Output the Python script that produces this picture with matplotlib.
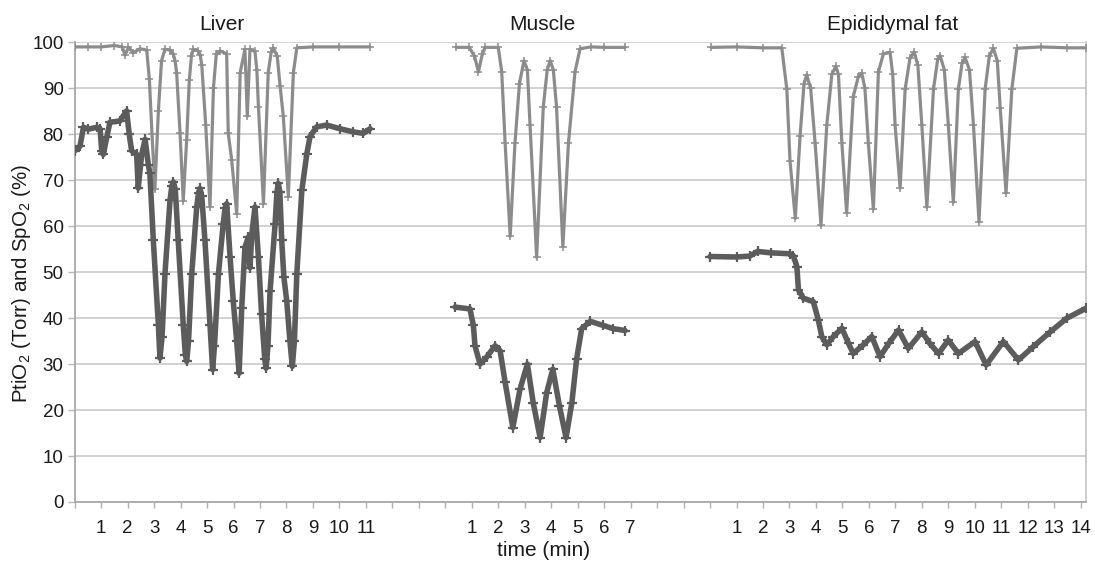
import matplotlib
matplotlib.use("Agg")
import matplotlib.pyplot as plt
import matplotlib.transforms as mtransforms
import numpy as np

plt.rcParams['font.family'] = ['Liberation Sans', 'DejaVu Sans']
plt.rcParams['mathtext.fontset'] = 'custom'
plt.rcParams['mathtext.rm'] = 'Liberation Sans'
plt.rcParams['mathtext.it'] = 'Liberation Sans:italic'

# ---------------- data (time in minutes within each tissue block) ----------------
liver_spo2_t = [0.0, 0.5, 1.0, 1.5, 1.8, 1.9, 2.03, 2.21, 2.47, 2.72, 2.82, 2.92, 3.03,
                3.16, 3.28, 3.41, 3.6, 3.72, 3.79, 3.85, 3.98, 4.1, 4.23, 4.33, 4.41,
                4.48, 4.65, 4.74, 4.8, 4.95, 5.11, 5.24, 5.35, 5.49, 5.74, 5.8, 5.93,
                6.12, 6.25, 6.43, 6.52, 6.62, 6.81, 6.88, 6.94, 7.13, 7.31, 7.42, 7.5,
                7.65, 7.76, 7.88, 8.07, 8.26, 8.39, 9.0, 10.0, 11.15]
liver_spo2 = [99, 99, 99, 99.3, 99, 97.2, 98.9, 97.7, 98.6, 98.3, 92, 80, 68,
              85, 96, 98.5, 98.3, 97.5, 96, 93.4, 80.2, 65.5, 78.8, 91.9, 97,
              98.5, 98.2, 97.3, 95, 82, 64.2, 90, 97.5, 98.1, 97.5, 80.2, 74.4,
              62.7, 93.4, 98.5, 83.9, 98.5, 98, 94, 86, 64.9, 93.4, 97.8, 98.8,
              97, 90.4, 83.9, 66.4, 93.4, 98.8, 99, 99, 99]

liver_pto2_t = [0.0, 0.2, 0.33, 0.51, 0.83, 0.96, 1.02, 1.08, 1.21, 1.33, 1.71, 1.96,
                2.06, 2.15, 2.34, 2.4, 2.53, 2.66, 2.78, 2.84, 2.97, 3.16, 3.22, 3.3,
                3.41, 3.6, 3.67, 3.73, 3.8, 3.91, 4.1, 4.18, 4.23, 4.3, 4.42, 4.61,
                4.68, 4.73, 4.8, 4.92, 5.11, 5.21, 5.28, 5.43, 5.61, 5.68, 5.74, 5.87,
                5.99, 6.12, 6.21, 6.31, 6.43, 6.56, 6.62, 6.69, 6.81, 6.94, 7.06, 7.18,
                7.23, 7.3, 7.38, 7.57, 7.64, 7.69, 7.75, 7.82, 7.9, 8.01, 8.13, 8.22,
                8.3, 8.39, 8.58, 8.77, 8.89, 9.14, 9.52, 10.02, 10.53, 10.9, 11.16]
liver_pto2 = [76.4, 77.4, 81.5, 81.1, 81.5, 81.1, 76.4, 75.6, 79.3, 82.6, 82.9, 85.1,
              80, 76.4, 75.6, 68.3, 75.6, 78.9, 73.4, 71.5, 56.9, 38.6, 31.3, 36,
              49.6, 65.6, 68.8, 69.6, 68, 56.9, 38.6, 32, 30.6, 35, 49.6, 64.2,
              67.3, 68.2, 66.5, 56.9, 38.6, 28.8, 34, 49.6, 60.5, 64, 64.9, 53.2,
              43.7, 35.0, 28.0, 42.3, 55.4, 57.6, 51.0, 58.3, 64.2, 53.2, 40.8, 31,
              29.1, 34, 45.9, 60.5, 67.5, 69.3, 67.5, 56.9, 49.0, 43.7, 35.0, 29.5,
              35, 49.6, 67.8, 75.8, 79.5, 81.6, 82.0, 81.2, 80.5, 80.2, 81.2]

muscle_spo2_t = [0.41, 0.9, 1.1, 1.25, 1.4, 1.5, 2.0, 2.13, 2.26, 2.45, 2.63, 2.8, 2.97,
                 3.1, 3.2, 3.45, 3.7, 3.85, 3.96, 4.08, 4.2, 4.44, 4.65, 4.9, 5.09,
                 5.5, 6.0, 6.79]
muscle_spo2 = [98.9, 98.9, 97, 93.6, 97.5, 98.9, 98.9, 93.6, 78, 57.8, 78, 91, 96,
               94, 82, 53.2, 85.9, 94, 96, 94, 86, 55.5, 78, 93.6, 98.6,
               99, 98.9, 98.9]

muscle_pto2_t = [0.37, 0.93, 1.06, 1.12, 1.31, 1.56, 1.88, 2.07, 2.26, 2.55, 2.82, 3.1,
                 3.32, 3.58, 3.83, 4.06, 4.31, 4.56, 4.78, 4.96, 5.15, 5.47, 5.97,
                 6.35, 6.79]
muscle_pto2 = [42.4, 42.0, 38.4, 34.0, 30.0, 31.5, 34.0, 32.9, 26.0, 16.2, 24.5, 30.0,
               21.6, 14.0, 23.8, 28.9, 20.9, 14.0, 21.6, 31.1, 37.7, 39.3, 38.4,
               37.7, 37.3]

fat_spo2_t = [0.04, 1.0, 2.0, 2.71, 2.9, 3.02, 3.22, 3.4, 3.55, 3.65, 3.8, 3.97, 4.19,
              4.41, 4.6, 4.75, 4.85, 4.98, 5.16, 5.41, 5.6, 5.73, 5.85, 5.98, 6.17,
              6.36, 6.55, 6.8, 6.9, 6.99, 7.18, 7.37, 7.55, 7.71, 7.85, 8.0, 8.19,
              8.44, 8.6, 8.69, 8.85, 9.0, 9.19, 9.38, 9.52, 9.63, 9.8, 9.95, 10.16,
              10.39, 10.55, 10.7, 10.85, 10.96, 11.18, 11.4, 11.59, 12.5, 13.5, 14.19]
fat_spo2 = [98.9, 99, 98.8, 98.8, 89.8, 74.2, 61.7, 79.6, 91, 92.9, 90, 78, 60.2,
            82, 93, 94.8, 93, 78, 62.9, 88.2, 92.5, 93.3, 90, 78, 63.7,
            93.6, 97.5, 97.8, 93, 82, 68.3, 89.8, 96.5, 97.9, 95, 82, 64.1,
            89.8, 96.3, 97.1, 94, 82, 65.2, 89.8, 95.5, 96.7, 94, 82, 60.9,
            89.8, 97, 98.7, 96, 85.8, 67.2, 89.8, 98.7, 99, 98.8, 98.8]

fat_pto2_t = [0.0, 1.0, 1.5, 1.8, 2.3, 3.02, 3.15, 3.28, 3.34, 3.53, 3.9, 4.09, 4.22,
              4.41, 4.66, 4.98, 5.23, 5.41, 5.79, 6.11, 6.42, 6.75, 7.12, 7.49, 8.0,
              8.3, 8.63, 9.0, 9.38, 10.01, 10.43, 11.08, 11.65, 12.21, 12.85, 13.48,
              14.19]
fat_pto2 = [53.4, 53.3, 53.5, 54.5, 54.2, 54.0, 53.5, 51.2, 46.1, 44.3, 43.6, 39.6, 36.0,
            34.2, 36.0, 37.8, 34.5, 32.3, 34.2, 36.0, 31.6, 34.5, 37.4, 33.4, 37.0,
            34.5, 32.3, 35.2, 32.3, 34.9, 29.8, 34.9, 30.9, 33.8, 37.0, 40.0,
            42.1]

tissues = ["Liver", "Muscle", "Epididymal fat"]
tick_labels_liver = [str(i) for i in range(1, 12)]
tick_labels_muscle = [str(i) for i in range(1, 8)]
tick_labels_fat = [str(i) for i in range(1, 15)]
y_ticks = list(range(0, 101, 10))

# ---------------- layout ----------------
offsets = {"Liver": 0, "Muscle": 14, "Epididymal fat": 24}
title_pos = {"Liver": 5.56, "Muscle": 17.65, "Epididymal fat": 30.9}
XMAX = 38.19

SPO2_C = "#8c8c8c"
PTO2_C = "#5c5c5c"

fig = plt.figure(figsize=(10.95, 5.61), dpi=100)
ax = fig.add_axes([74.7 / 1095, 1 - 502 / 561, (1085.7 - 74.7) / 1095, (502 - 42.3) / 561])

series = [
    ("Liver", liver_spo2_t, liver_spo2, liver_pto2_t, liver_pto2),
    ("Muscle", muscle_spo2_t, muscle_spo2, muscle_pto2_t, muscle_pto2),
    ("Epididymal fat", fat_spo2_t, fat_spo2, fat_pto2_t, fat_pto2),
]
for name, st, sv, pt, pv in series:
    off = offsets[name]
    ax.plot(np.array(st) + off, sv, color=SPO2_C, lw=2.3, marker='+', ms=5.5, mew=1.1,
            zorder=3, solid_joinstyle='round', solid_capstyle='round')
    ax.plot(np.array(pt) + off, pv, color=PTO2_C, lw=4.0, marker='+', ms=7, mew=1.6,
            zorder=4, solid_joinstyle='round', solid_capstyle='round')

ax.set_xlim(0, XMAX)
ax.set_ylim(0, 100)
ax.set_yticks(y_ticks)
ax.set_yticklabels([str(v) for v in y_ticks], fontsize=13.5, color="#1a1a1a")

xt = list(range(0, 39))
xl = [""] * 39
for i, lab in enumerate(tick_labels_liver):
    xl[offsets["Liver"] + 1 + i] = lab
for i, lab in enumerate(tick_labels_muscle):
    xl[offsets["Muscle"] + 1 + i] = lab
for i, lab in enumerate(tick_labels_fat):
    xl[offsets["Epididymal fat"] + 1 + i] = lab
ax.set_xticks(xt)
ax.set_xticklabels(xl, fontsize=13.5, color="#1a1a1a")

ax.tick_params(axis='x', length=4, width=1, color="#b0b0b0", pad=9)
ax.tick_params(axis='y', length=5, width=1, color="#b8b8b8", pad=3)

ax.grid(axis='y', color="#c9c9c9", lw=1.2, zorder=0)
ax.set_axisbelow(True)
for s in ['left', 'bottom']:
    ax.spines[s].set_color("#a8a8a8")
    ax.spines[s].set_linewidth(1.3)
ax.spines['right'].set_color("#c4c4c4")
ax.spines['right'].set_linewidth(1.2)
ax.spines['top'].set_visible(False)

blend = mtransforms.blended_transform_factory(ax.transData, fig.transFigure)
for name in tissues:
    ax.text(title_pos[name], 1 - 24 / 561, name, transform=blend,
            ha='center', va='center', fontsize=15, color="#1a1a1a")

ax.text(17.7, 1 - 550 / 561, "time (min)", transform=blend,
        ha='center', va='center', fontsize=15, color="#1a1a1a")

fig.text(22 / 1095, 1 - 283 / 561, r"PtiO$_2$ (Torr) and SpO$_2$ (%)", rotation=90,
         ha='center', va='center', fontsize=14.8, color="#1a1a1a")

fig.savefig("out.png", dpi=100, facecolor="white")
